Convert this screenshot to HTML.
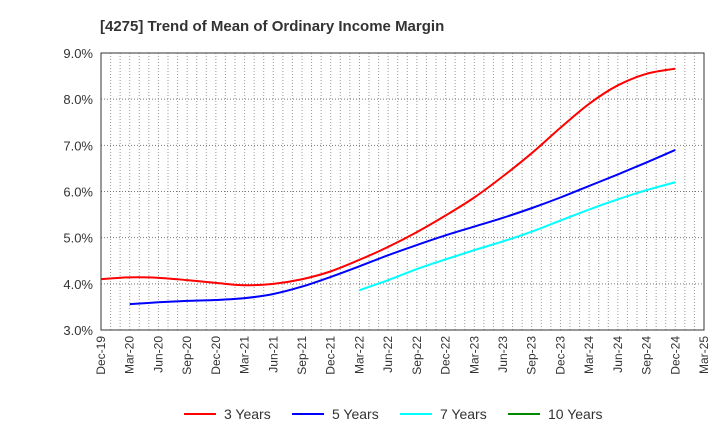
<!DOCTYPE html>
<html><head><meta charset="utf-8"><style>body{margin:0;background:#fff}svg{font-family:"Liberation Sans",sans-serif}</style></head>
<body>
<svg id="c" width="720" height="440"></svg>
<script>
const categories=["Dec-19","Mar-20","Jun-20","Sep-20","Dec-20","Mar-21","Jun-21","Sep-21","Dec-21","Mar-22","Jun-22","Sep-22","Dec-22","Mar-23","Jun-23","Sep-23","Dec-23","Mar-24","Jun-24","Sep-24","Dec-24","Mar-25"];
const yTicks=[3,4,5,6,7,8,9];
const s3=[4.10,4.14,4.13,4.08,4.02,3.97,4.00,4.10,4.27,4.52,4.80,5.12,5.48,5.87,6.33,6.83,7.38,7.90,8.30,8.55,8.66];
const s5=[null,3.56,3.60,3.63,3.65,3.69,3.78,3.94,4.15,4.38,4.62,4.84,5.05,5.24,5.43,5.64,5.87,6.12,6.37,6.63,6.90];
const s7=[null,null,null,null,null,null,null,null,null,3.86,4.08,4.32,4.53,4.73,4.92,5.13,5.37,5.61,5.83,6.03,6.20];
const s10=[];
const NS="http://www.w3.org/2000/svg",svg=document.getElementById('c');
const L=101,R=704,T=53,B=330;
const x=i=>L+(R-L)*i/(categories.length-1);
const y=v=>B-(v-3)/6*(B-T);
function mk(t,a,p){const e=document.createElementNS(NS,t);for(const k in a)e.setAttribute(k,a[k]);(p||svg).appendChild(e);return e;}
const t=mk('text',{x:100,y:31,'font-size':15,'font-weight':'bold',fill:'#333'});t.textContent='[4275]  Trend of Mean of Ordinary Income Margin';

const g=mk('g',{});
for(let m=1;m<(categories.length-1)*3;m++){const xx=L+(R-L)*m/((categories.length-1)*3);mk('line',{x1:xx,x2:xx,y1:T,y2:B,stroke:'#999','stroke-width':1,'stroke-dasharray':'1,2'},g);}
yTicks.forEach(v=>{mk('line',{x1:L,x2:R,y1:y(v),y2:y(v),stroke:'#777','stroke-width':1,'stroke-dasharray':'1,2'},g);
const l=mk('text',{x:L-8,y:y(v)+5,'text-anchor':'end','font-size':13,fill:'#333'});l.textContent=v.toFixed(1)+'%';
});
mk('rect',{x:L,y:T,width:R-L,height:B-T,fill:'none',stroke:'#333','stroke-width':1});
categories.forEach((c,i)=>{const l=mk('text',{transform:`translate(${x(i)+4},${B+6}) rotate(-90)`,'text-anchor':'end','font-size':12,fill:'#333'});l.textContent=c;
});
function path(d){const p=[];d.forEach((v,i)=>{if(v!=null)p.push([x(i),y(v)]);});if(p.length<2)return'';let s=`M${p[0][0]},${p[0][1]}`;
for(let i=0;i<p.length-1;i++){const p0=p[i-1]||p[i],p1=p[i],p2=p[i+1],p3=p[i+2]||p2;
s+=`C${p1[0]+(p2[0]-p0[0])/6},${p1[1]+(p2[1]-p0[1])/6} ${p2[0]-(p3[0]-p1[0])/6},${p2[1]-(p3[1]-p1[1])/6} ${p2[0]},${p2[1]}`;}return s;}
const series=[[s3,'#f00','3 Years'],[s5,'#00f','5 Years'],[s7,'#0ff','7 Years'],[s10,'#080','10 Years']];
series.forEach(([d,c,n],k)=>{const p=mk('path',{d:path(d),fill:'none',stroke:c,'stroke-width':2});

const lx=184+k*108;const lg=mk('g',{});
mk('line',{x1:lx,x2:lx+32,y1:414,y2:414,stroke:c,'stroke-width':2},lg);
const tx=mk('text',{x:lx+40,y:419,'font-size':14,fill:'#333'},lg);tx.textContent=n;});
</script>
</body></html>
